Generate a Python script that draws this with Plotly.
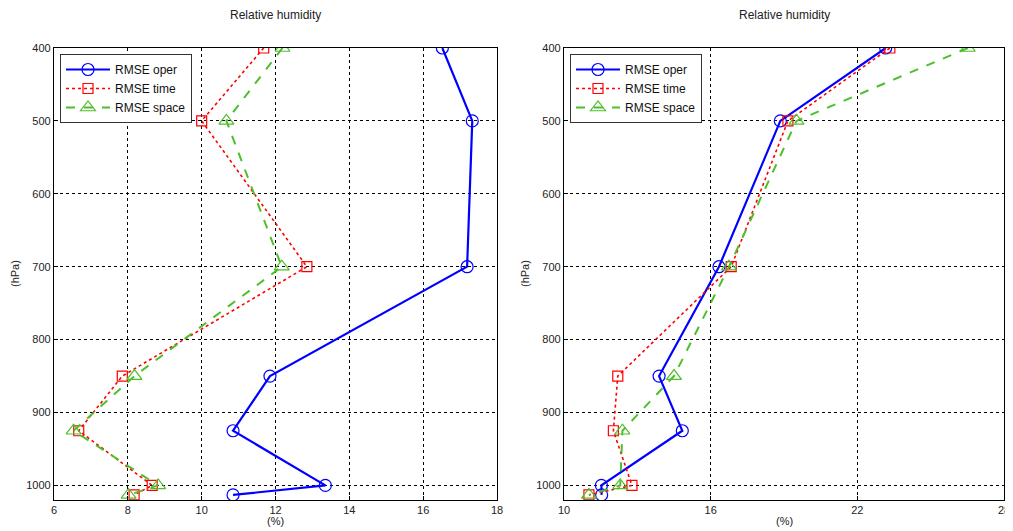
import plotly.graph_objects as go

levels = [400, 500, 700, 850, 925, 1000, 1013]

left_oper = [16.52, 17.33, 17.19, 11.85, 10.85, 13.35, 10.85]
left_time = [11.68, 10.0, 12.85, 7.85, 6.67, 8.66, 8.17]
left_space = [12.19, 10.67, 12.17, 8.18, 6.53, 8.82, 8.02]

right_oper = [23.16, 18.85, 16.34, 13.89, 14.84, 11.53, 11.54]
right_time = [23.33, 19.16, 16.84, 12.20, 12.02, 12.78, 11.02]
right_space = [26.52, 19.51, 16.75, 14.5, 12.39, 12.3, 11.02]

left_xticks = [6, 8, 10, 12, 14, 16, 18]
right_xticks = [10, 16, 22, 28]
yticks = [400, 500, 600, 700, 800, 900, 1000]

names = ["RMSE oper", "RMSE time", "RMSE space"]
colors = ["#0000ff", "#ff0000", "#4dbf2a"]
dashes = ["solid", "dot", "dash"]
widths = [2.2, 1.6, 2.0]
symbols = ["circle-open", "square-open", "triangle-up-open"]
msizes = [12, 10, 13]

FONT = "Liberation Sans, Arial, sans-serif"
W, H = 1013, 531
OFF = 8  # page body margin offset

fig = go.Figure()

panels = [
    (left_oper, left_time, left_space, "x", "y", "legend"),
    (right_oper, right_time, right_space, "x2", "y2", "legend2"),
]
for oper, time, space, xa, ya, lg in panels:
    for i, series in enumerate([oper, time, space]):
        fig.add_trace(go.Scatter(
            x=series, y=levels, name=names[i], mode="lines+markers",
            xaxis=xa, yaxis=ya, legend=lg,
            line=dict(color=colors[i], width=widths[i], dash=dashes[i]),
            marker=dict(symbol=symbols[i], size=msizes[i], color=colors[i],
                        line=dict(width=1.2, color=colors[i])),
        ))

def px_x(p):
    return (p - OFF) / W

def px_y(p):
    return 1 - (p - OFF) / H

ax_common = dict(
    showline=True, mirror=True, linecolor="black", linewidth=1.2,
    showgrid=True, gridcolor="black", griddash="dot", gridwidth=1,
    ticks="inside", ticklen=4, tickcolor="black",
    tickfont=dict(family=FONT, size=11, color="#222"),
    zeroline=False,
)

legend_common = dict(
    xanchor="left", yanchor="top",
    bgcolor="white", bordercolor="#333", borderwidth=1,
    font=dict(family=FONT, size=12, color="#111"),
    tracegroupgap=0, itemwidth=44,
)

fig.update_layout(
    width=W, height=H, margin=dict(l=0, r=0, t=0, b=0, autoexpand=False),
    paper_bgcolor="white", plot_bgcolor="white",
    font=dict(family=FONT, color="#222"),
    xaxis=dict(domain=[px_x(54), px_x(497)], range=[6, 18], tickvals=left_xticks,
               anchor="y", **ax_common),
    yaxis=dict(domain=[px_y(500), px_y(48)], range=[1020, 400], tickvals=yticks,
               anchor="x", **ax_common),
    xaxis2=dict(domain=[px_x(564), px_x(1004)], range=[10, 28], tickvals=right_xticks,
                anchor="y2", **ax_common),
    yaxis2=dict(domain=[px_y(500), px_y(48)], range=[1020, 400], tickvals=yticks,
                anchor="x2", **ax_common),
    legend=dict(x=px_x(60), y=px_y(54), **legend_common),
    legend2=dict(x=px_x(570), y=px_y(54), **legend_common),
)

annots = []
anc = dict(xref="paper", yref="paper", showarrow=False, xanchor="center", yanchor="middle")
for cx in [(54 + 497) / 2, (564 + 1004) / 2]:
    annots.append(dict(text="Relative humidity", x=px_x(cx), y=px_y(15),
                       font=dict(family=FONT, size=12, color="#222"), **anc))
    annots.append(dict(text="(%)", x=px_x(cx), y=px_y(521),
                       font=dict(family=FONT, size=11, color="#222"), **anc))
for lx in [15, 525]:
    annots.append(dict(text="(hPa)", x=px_x(lx), y=px_y(274), textangle=-90,
                       font=dict(family=FONT, size=11, color="#222"), **anc))
fig.update_layout(annotations=annots)

fig.write_html("out.html")
